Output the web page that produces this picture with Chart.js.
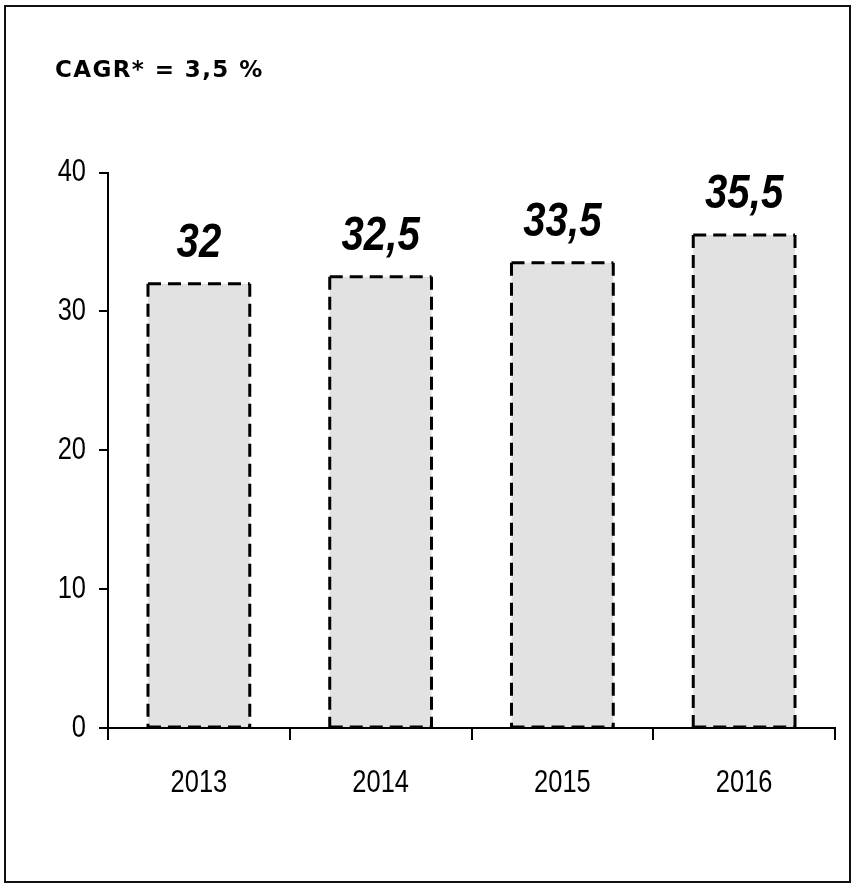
<!DOCTYPE html>
<html>
<head>
<meta charset="utf-8">
<script src="https://cdn.jsdelivr.net/npm/chart.js@4.4.0/dist/chart.umd.min.js"></script>
<style>
  body { margin: 0; background: #fff; }
  #frame { position: absolute; left: 4px; top: 5px; width: 847px; height: 878px; box-sizing: border-box; border: 2px solid #111; }
  #wrap { position: absolute; left: 0; top: 0; width: 854px; height: 885px; }
</style>
</head>
<body>
<div id="frame"></div>
<div id="wrap"><canvas id="chart" width="854" height="885"></canvas></div>
<script>
// data
var years = ["2013", "2014", "2015", "2016"];
var values = [32, 32.5, 33.5, 35.5];
var yTicks = [0, 10, 20, 30, 40];
var titleText = "CAGR* = 3,5 %";

// no narrow font installed, so text is squeezed horizontally
var sans = '"Liberation Sans", Arial, sans-serif';
var squeeze = 0.82;

function narrowText(ctx, text, x, y, font, align, baseline) {
    ctx.save();
    ctx.letterSpacing = '0px';
    ctx.fillStyle = '#000';
    ctx.font = font;
    ctx.textAlign = align;
    ctx.textBaseline = baseline;
    ctx.translate(x, y);
    ctx.scale(squeeze, 1);
    ctx.fillText(text, 0, 0);
    ctx.restore();
}

// title spacing (verdana is wider than dejavu)
var titleSpacing = {
    id: 'titleSpacing',
    beforeDraw: function(chart) { chart.ctx.letterSpacing = '1.4px'; },
    beforeDatasetsDraw: function(chart) { chart.ctx.letterSpacing = '0px'; }
};

// bar value labels, dashed outline and the axis labels
var barDecor = {
    id: 'barDecor',
    afterDatasetsDraw: function(chart) {
        var ctx = chart.ctx;
        var meta = chart.getDatasetMeta(0);
        meta.data.forEach(function(bar, i) {
            var l = bar.x - bar.width / 2;
            var r = bar.x + bar.width / 2;
            var t = bar.y;
            var b = bar.base;

            ctx.save();
            ctx.strokeStyle = '#000';
            ctx.lineWidth = 3;
            ctx.setLineDash([13, 7]);
            [[l, t, r, t], [l, t, l, b], [r, t, r, b], [l, b, r, b]].forEach(function(s) {
                ctx.beginPath();
                ctx.moveTo(s[0], s[1]);
                ctx.lineTo(s[2], s[3]);
                ctx.stroke();
            });
            ctx.restore();

            narrowText(ctx, String(values[i]).replace('.', ','), bar.x, t - 27,
                'italic bold 49px ' + sans, 'center', 'alphabetic');
        });

        // tick labels
        var xs = chart.scales.x;
        var ys = chart.scales.y;
        xs.ticks.forEach(function(tick, i) {
            narrowText(ctx, xs.getLabelForValue(tick.value), xs.getPixelForTick(i), xs.top + 64,
                '31px ' + sans, 'center', 'alphabetic');
        });
        ys.ticks.forEach(function(tick) {
            narrowText(ctx, String(tick.value), ys.right - 22, ys.getPixelForValue(tick.value),
                '31px ' + sans, 'right', 'middle');
        });
    }
};

var chart = new Chart(document.getElementById('chart'), {
    type: 'bar',
    data: {
        labels: years,
        datasets: [{
            data: values,
            backgroundColor: '#e2e2e2',
            borderWidth: 0,
            categoryPercentage: 1,
            barPercentage: 0.56
        }]
    },
    options: {
        responsive: false,
        devicePixelRatio: 1,
        animation: false,
        layout: { padding: { left: 55, right: 19, top: 0, bottom: 0 } },
        plugins: {
            legend: { display: false },
            tooltip: { enabled: false },
            title: {
                display: true,
                text: titleText,
                align: 'start',
                color: '#000',
                font: { family: '"DejaVu Sans", Verdana, sans-serif', size: 23, weight: 'bold', lineHeight: 1.2 },
                padding: { top: 57, bottom: 88 }
            }
        },
        scales: {
            x: {
                grid: { drawOnChartArea: false, color: '#000', lineWidth: 2, tickLength: 12, offset: true },
                border: { color: '#000', width: 2 },
                ticks: { display: false },
                afterFit: function(scale) { scale.height = 157; }
            },
            y: {
                min: 0,
                max: 40,
                afterBuildTicks: function(scale) {
                    scale.ticks = yTicks.map(function(v) { return { value: v }; });
                },
                grid: { drawOnChartArea: false, color: '#000', lineWidth: 2, tickLength: 9 },
                border: { color: '#000', width: 2 },
                ticks: { display: false },
                afterFit: function(scale) { scale.width = 53; }
            }
        }
    },
    plugins: [titleSpacing, barDecor]
});
</script>
</body>
</html>
